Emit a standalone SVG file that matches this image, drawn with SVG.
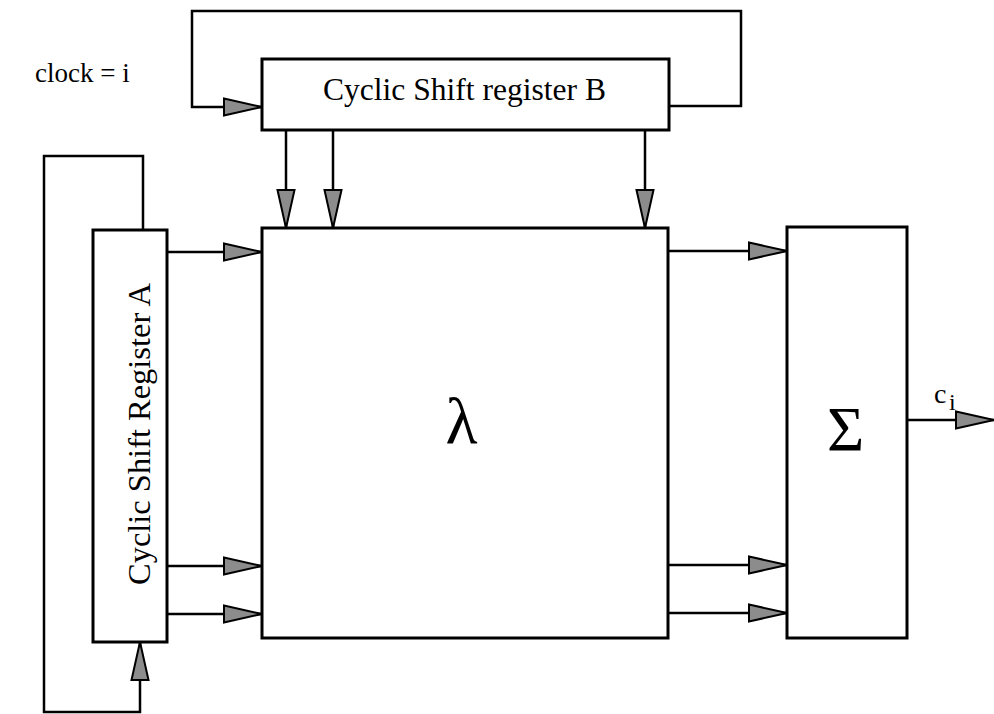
<svg xmlns="http://www.w3.org/2000/svg" width="994" height="714" viewBox="0 0 994 714">
<defs>
<style>
.box{fill:#fff;stroke:#000;stroke-width:3}
.wire{fill:none;stroke:#000;stroke-width:2.5}
.t{font-family:"Liberation Serif","Times New Roman",serif;fill:#000}
</style>
<marker id="ah" markerUnits="userSpaceOnUse" viewBox="0 0 40 20" refX="39" refY="10" markerWidth="40" markerHeight="20" orient="auto">
<path d="M1,1.5 L39,10 L1,18.5 Z" fill="#8c8c8c" stroke="#000" stroke-width="2"/>
</marker>
</defs>
<rect width="994" height="714" fill="#fff"/>
<g id="connectors">
<polyline class="wire" points="669,106 741,106 741,11 192,11 192,107 262,107" marker-end="url(#ah)"/>
<polyline class="wire" points="143,230 143,156 44,156 44,712 140,712 140,642" marker-end="url(#ah)"/>
<line class="wire" x1="286" y1="130" x2="286" y2="228" marker-end="url(#ah)"/>
<line class="wire" x1="333" y1="130" x2="333" y2="228" marker-end="url(#ah)"/>
<line class="wire" x1="645" y1="130" x2="645" y2="228" marker-end="url(#ah)"/>
<line class="wire" x1="167" y1="252" x2="262" y2="252" marker-end="url(#ah)"/>
<line class="wire" x1="167" y1="566" x2="262" y2="566" marker-end="url(#ah)"/>
<line class="wire" x1="167" y1="614" x2="262" y2="614" marker-end="url(#ah)"/>
<line class="wire" x1="668" y1="251" x2="787" y2="251" marker-end="url(#ah)"/>
<line class="wire" x1="668" y1="565" x2="787" y2="565" marker-end="url(#ah)"/>
<line class="wire" x1="668" y1="613" x2="787" y2="613" marker-end="url(#ah)"/>
<line class="wire" x1="907" y1="420" x2="994" y2="420" marker-end="url(#ah)"/>
</g>
<g id="clock">
<text class="t" x="35" y="82" font-size="27">clock = i</text>
</g>
<g id="regB">
<rect class="box" x="262" y="59" width="407" height="71"/>
<text class="t" x="323" y="100" font-size="31" textLength="283" lengthAdjust="spacingAndGlyphs">Cyclic Shift register B</text>
</g>
<g id="regA">
<rect class="box" x="93" y="230" width="74" height="412"/>
<text class="t" transform="translate(150,585) rotate(-90)" x="0" y="0" font-size="31" textLength="302" lengthAdjust="spacingAndGlyphs">Cyclic Shift Register A</text>
</g>
<g id="lambda">
<rect class="box" x="262" y="228" width="406" height="410"/>
<text class="t" x="461.5" y="443" font-size="66" text-anchor="middle">λ</text>
</g>
<g id="sigma">
<rect class="box" x="787" y="227" width="120" height="411"/>
<text class="t" x="845.5" y="451" font-size="64" text-anchor="middle">Σ</text>
</g>
<g id="out">
<text class="t" x="934" y="403" font-size="28">c</text>
<text class="t" x="949" y="410" font-size="24">i</text>
</g>
</svg>
